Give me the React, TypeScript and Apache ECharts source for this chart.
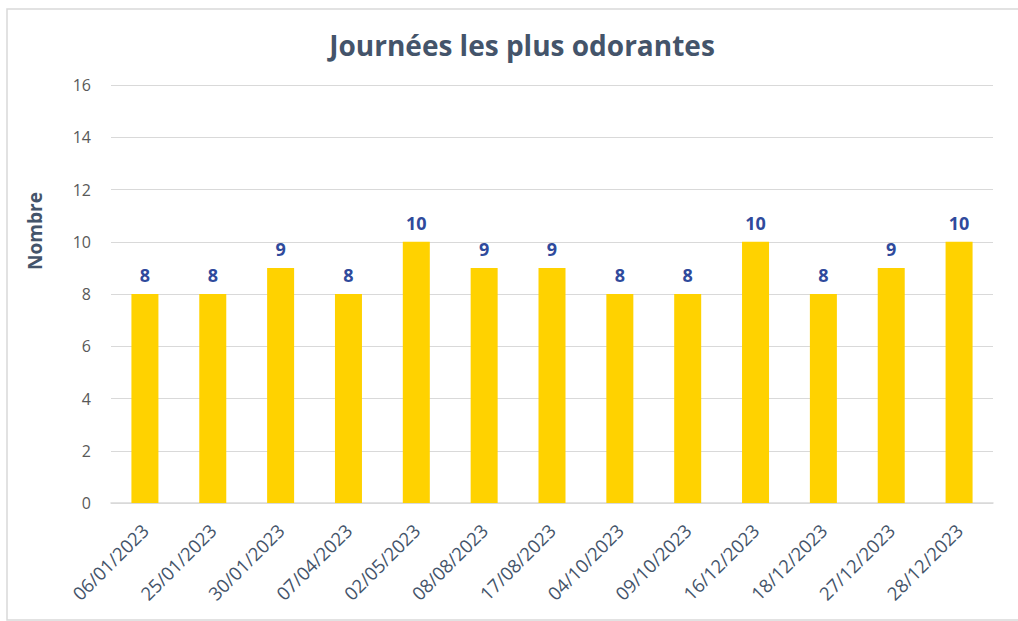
import React, { useEffect, useRef } from "react";
import * as echarts from "echarts";

const categories = [
  "06/01/2023", "25/01/2023", "30/01/2023", "07/04/2023", "02/05/2023",
  "08/08/2023", "17/08/2023", "04/10/2023", "09/10/2023", "16/12/2023",
  "18/12/2023", "27/12/2023", "28/12/2023",
];
const values = [8, 8, 9, 8, 10, 9, 9, 8, 8, 10, 8, 9, 10];
const titleText = "Journées les plus odorantes";
const yAxisName = "Nombre";

export default function App() {
  const ref = useRef<HTMLDivElement>(null);
  useEffect(() => {
    if (!ref.current) return;
    const chart = echarts.init(ref.current, null, { renderer: "svg" });
    const font = "'Open Sans', 'Noto Sans', sans-serif";
    chart.setOption({
      animation: false,
      backgroundColor: "#ffffff",
      title: {
        text: titleText,
        left: 517,
        textAlign: "center",
        top: 26,
        textStyle: { fontFamily: font, fontSize: 28, fontWeight: "bold", color: "#44546A" },
      },
      graphic: [
        {
          type: "rect",
          shape: { x: 7, y: 9, width: 1020, height: 611 },
          style: { fill: "none", stroke: "#d9d9d9", lineWidth: 1.5 },
          silent: true,
        },
        {
          type: "text",
          x: 35,
          y: 231,
          rotation: Math.PI / 2,
          style: {
            text: yAxisName,
            fontFamily: font,
            fontSize: 19,
            fontWeight: "bold",
            fill: "#44546A",
            align: "center",
            verticalAlign: "middle",
          },
          silent: true,
        },
      ],
      grid: { left: 111, right: 25, top: 85, bottom: 118 },
      xAxis: {
        type: "category",
        data: categories,
        axisLine: { lineStyle: { color: "#d9d9d9", width: 1.5 } },
        axisTick: { show: false },
        axisLabel: {
          rotate: 45,
          fontFamily: font,
          fontSize: 18.5,
          color: "#44546A",
          margin: 24,
          interval: 0,
        },
      },
      yAxis: {
        type: "value",
        min: 0,
        max: 16,
        interval: 2,
        axisLine: { show: false },
        axisTick: { show: false },
        splitLine: { lineStyle: { color: "#d9d9d9", width: 1.2 } },
        axisLabel: { fontFamily: font, fontSize: 16, color: "#595959", margin: 20 },
      },
      series: [
        {
          type: "bar",
          data: values,
          barWidth: 27,
          itemStyle: { color: "#FFD200" },
          label: {
            show: true,
            position: "top",
            distance: 10,
            fontFamily: font,
            fontSize: 18,
            fontWeight: "bold",
            color: "#2F4A9C",
          },
        },
      ],
    });
    return () => chart.dispose();
  }, []);
  return <div ref={ref} style={{ width: 1018, height: 621, position: "absolute", left: 0, top: 0 }} />;
}
